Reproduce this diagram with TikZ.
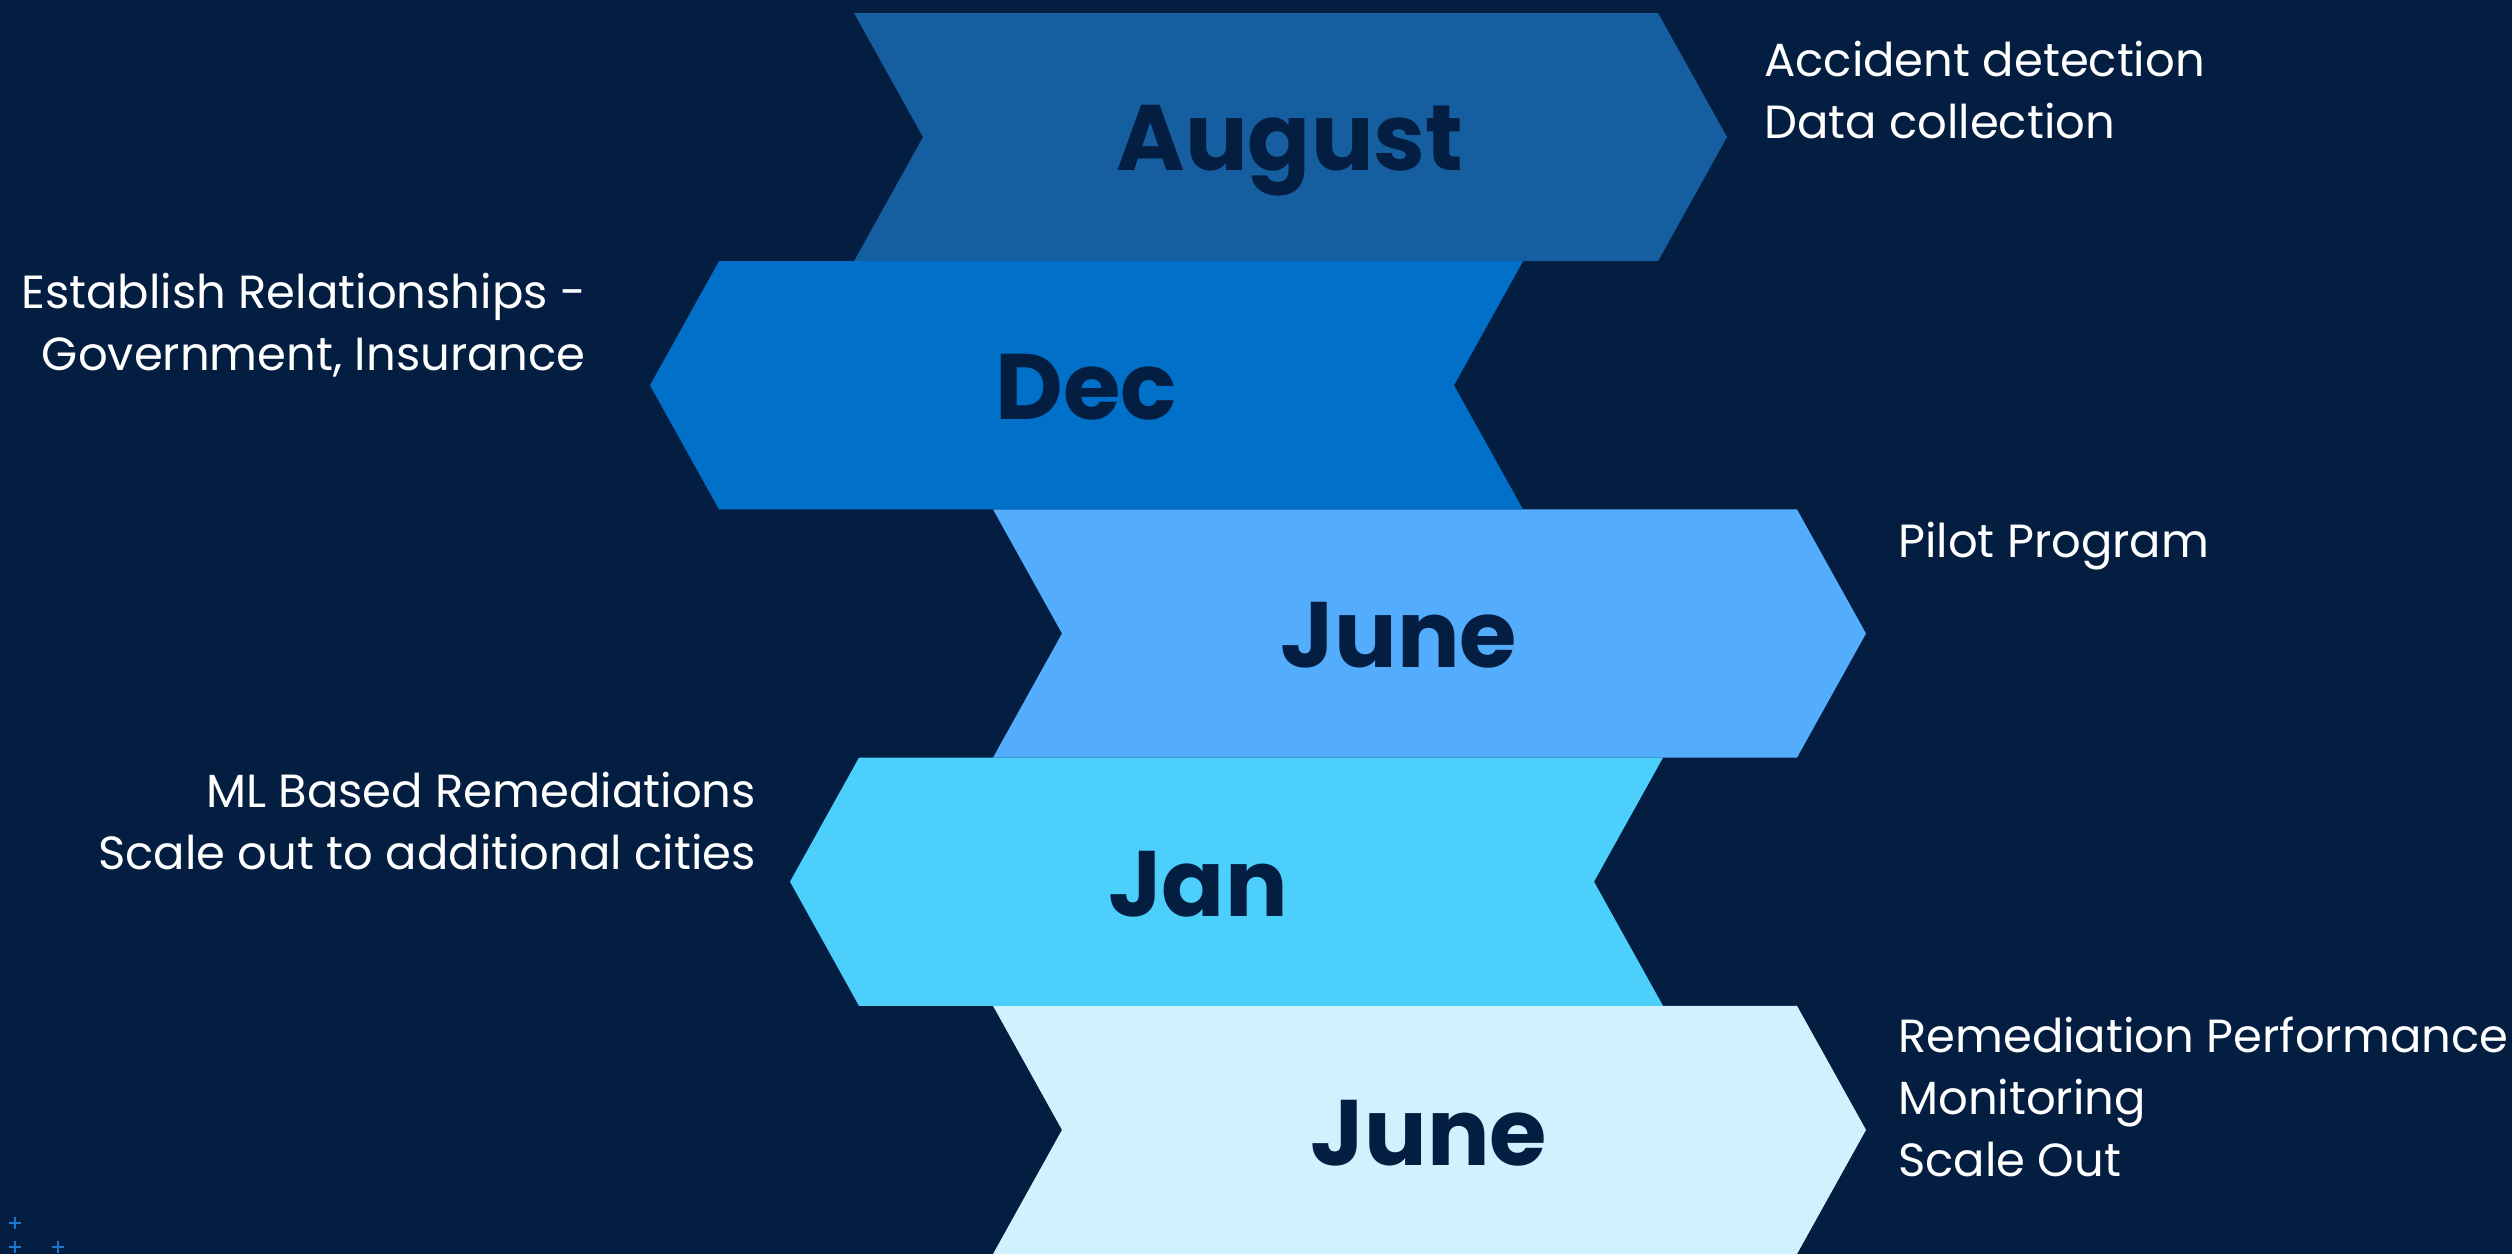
\documentclass[tikz,border=0pt]{standalone}
\usepackage{fontspec}
\setmainfont{Poppins}
\definecolor{navy}{HTML}{041E42}
\definecolor{augblue}{HTML}{155EA0}
\definecolor{decblue}{HTML}{0070C8}
\definecolor{juneblue}{HTML}{54ACFD}
\definecolor{janblue}{HTML}{4CD0FB}
\definecolor{paleblue}{HTML}{CFF2FE}
\definecolor{plusblue}{HTML}{1A78D2}
\tikzset{
  month/.style={text=navy, font=\bfseries\fontsize{93}{93}\selectfont, inner sep=0pt, anchor=base},
  note/.style={text=white, font=\fontsize{46.5}{62}\selectfont, inner sep=0pt},
}
\begin{document}
\begin{tikzpicture}[x=1pt, y=-1pt, line join=round]
\def\w{804} \def\d{69} \def\h{248.2}
\fill[navy] (0,0) rectangle (2512,1254);
\useasboundingbox (0,0) rectangle (2512,1254);
% chevrons pointing right
\fill[augblue] (854,13) -- ++(\w,0) -- ++(\d,\h/2) -- ++(-\d,\h/2) -- ++(-\w,0) -- ++(\d,-\h/2) -- cycle;
\fill[juneblue] (993,509.4) -- ++(\w,0) -- ++(\d,\h/2) -- ++(-\d,\h/2) -- ++(-\w,0) -- ++(\d,-\h/2) -- cycle;
\fill[paleblue] (993,1005.8) -- ++(\w,0) -- ++(\d,\h/2) -- ++(-\d,\h/2) -- ++(-\w,0) -- ++(\d,-\h/2) -- cycle;
% chevrons pointing left
\fill[decblue] (719,261.2) -- ++(\w,0) -- ++(-\d,\h/2) -- ++(\d,\h/2) -- ++(-\w,0) -- ++(-\d,-\h/2) -- cycle;
\fill[janblue] (859,757.6) -- ++(\w,0) -- ++(-\d,\h/2) -- ++(\d,\h/2) -- ++(-\w,0) -- ++(-\d,-\h/2) -- cycle;
% months, placed on their baselines
\node[month] (aug) at (1290,170) {August};
\node[month] (dec) at (1086,419) {Dec};
\node[month] (jun) at (1399,667) {June};
\node[month] (jan) at (1198,916) {Jan};
\node[month] (junb) at (1429,1165) {June};
% notes beside the chevrons
\node[note, anchor=west, align=left] (augnote) at (1764,90) {Accident detection\\Data collection};
\node[note, anchor=east, align=right] (decnote) at (586,325) {Establish Relationships -\\Government, Insurance};
\node[note, anchor=west, align=left] (junnote) at (1898,546) {Pilot Program};
\node[note, anchor=east, align=right] (jannote) at (756,821) {ML Based Remediations\\Scale out to additional cities};
\node[note, anchor=west, align=left] (junbnote) at (1898,1097) {Remediation Performance\\Monitoring\\Scale Out};
% little crosses in the corner
\foreach \p in {(15,1223),(15,1247),(58,1247)}
  \draw[plusblue, line width=2.5pt] \p +(-6,0) -- +(6,0) \p +(0,-6) -- +(0,6);
\end{tikzpicture}
\end{document}
